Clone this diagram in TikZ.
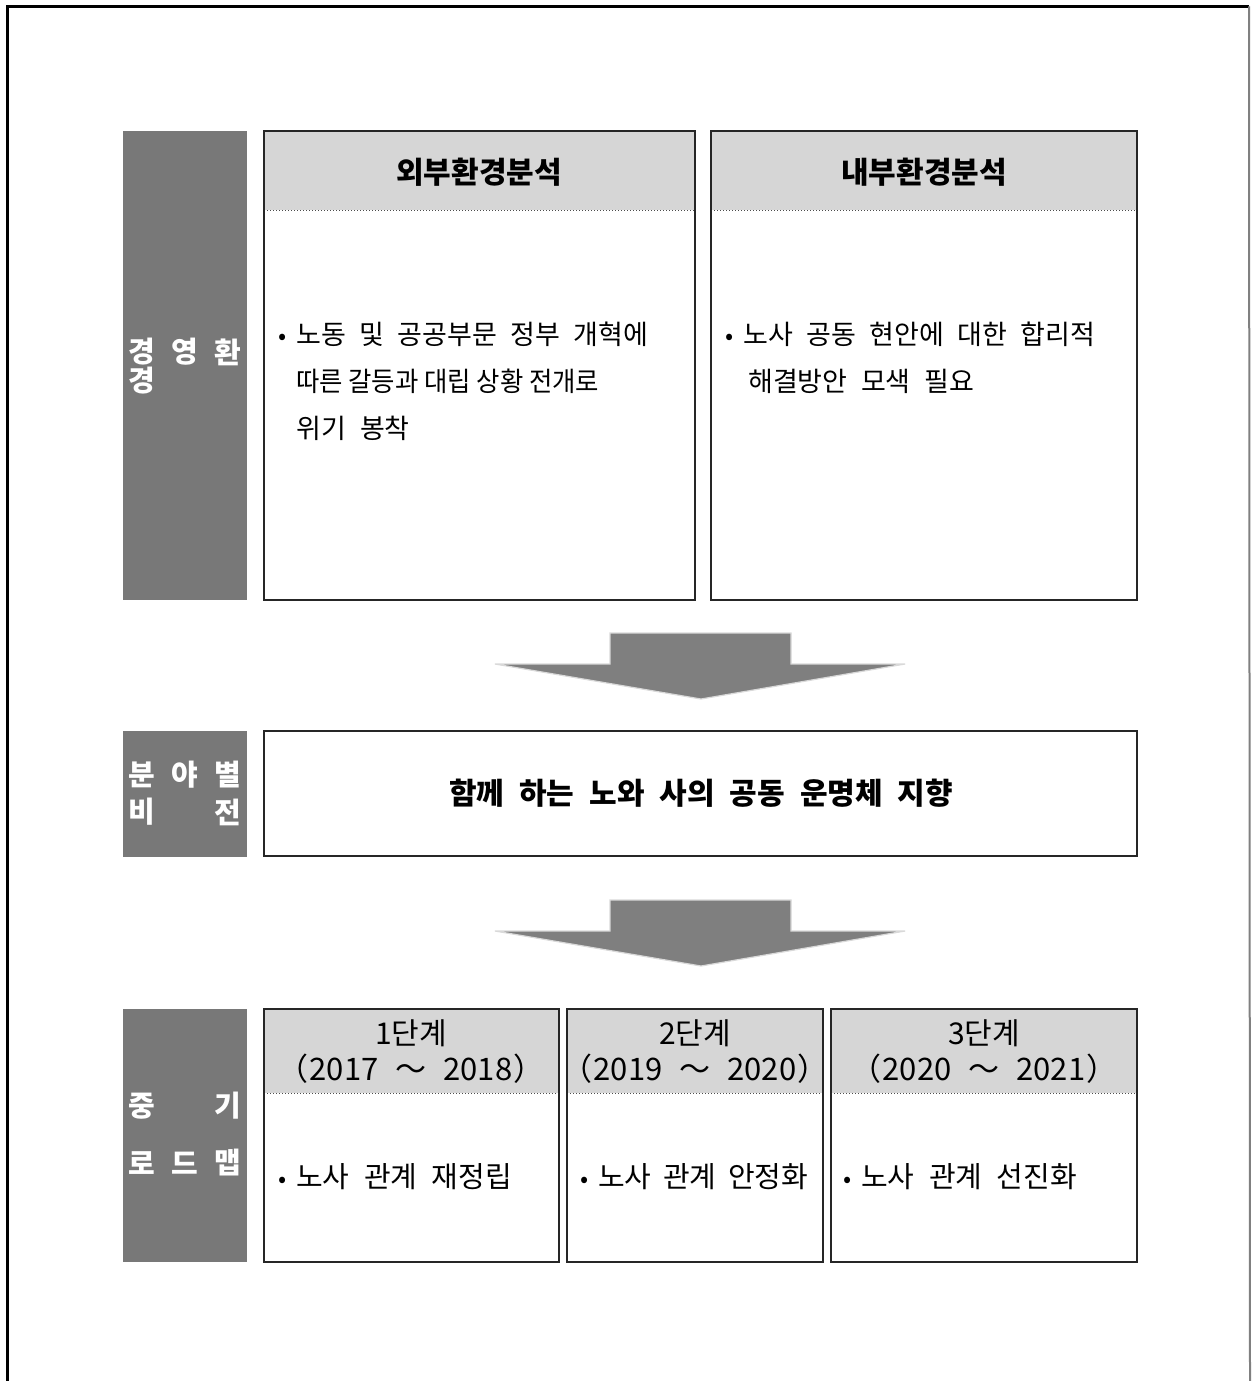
\documentclass[tikz,border=0pt]{standalone}
\usepackage{fontspec}
\setmainfont{Noto Sans CJK KR}
\definecolor{labelgray}{HTML}{787878}
\definecolor{headgray}{HTML}{D6D6D6}
\definecolor{arrowgray}{HTML}{7F7F7F}
\newcommand{\bul}{\makebox[18pt][l]{\fontsize{24}{24}\selectfont •}}
\newcommand{\ws}{\hspace{0.5em}}
\newcommand{\yrs}[2]{（\hspace{0.05em}#1\hspace{0.55em}～\hspace{0.55em}#2\hspace{0.05em}）}
\begin{document}
\begin{tikzpicture}[x=1pt,y=-1pt,
  lab/.style={text=white, font=\bfseries\fontsize{29}{29}\selectfont, inner sep=0pt},
  panel/.style={draw=black!85, line width=1.3pt},
  sep/.style={dotted, line width=1pt, draw=black!70},
  headtxt/.style={font=\bfseries\fontsize{30}{30}\selectfont, inner sep=0pt},
  stagetxt/.style={font=\fontsize{30}{30}\selectfont, inner sep=0pt},
  yeartxt/.style={font=\fontsize{31}{31}\selectfont, inner sep=0pt},
  body/.style={font=\fontsize{27}{27}\selectfont, anchor=base west, inner sep=0pt},
  bodyb/.style={font=\fontsize{29}{29}\selectfont, anchor=base west, inner sep=0pt},
  bigarrow/.style={fill=arrowgray, draw=gray!30, line width=1.2pt, line join=miter}]
\useasboundingbox (0,0) rectangle (1252,1381);
\fill[white] (0,0) rectangle (1252,1381);
% outer frame
\draw[line width=2.5pt] (7.5,1385) -- (7.5,6.5) -- (1249,6.5);
\draw[gray, line width=2pt] (1249,6.5) -- (1250,1385);

% ---------- row 1 ----------
\fill[labelgray] (123,131) rectangle (247,600);
\node[lab] (l1a) at (142,352) {경};
\node[lab] (l1b) at (185,352) {영};
\node[lab] (l1c) at (228,352) {환};
\node[lab] (l1d) at (142,381) {경};

\fill[headgray] (264,131) rectangle (695,210);
\draw[sep] (264,210) -- (695,210);
\draw[panel] (264,131) rectangle (695,600);
\node[headtxt] (exth) at (479,172) {외부환경분석};
\node[body] (ext1) at (278,344) {\bul 노동\ws 및\ws 공공부문\ws 정부\ws 개혁에};
\node[body] (ext2) at (296,391) {\scalebox{0.94}[1]{따른 갈등과 대립 상황 전개로}};
\node[body] (ext3) at (296,438) {위기\hspace{0.3em} 봉착};

\fill[headgray] (711,131) rectangle (1137,210);
\draw[sep] (711,210) -- (1137,210);
\draw[panel] (711,131) rectangle (1137,600);
\node[headtxt] (inth) at (924,172) {내부환경분석};
\node[body] (int1) at (725,344) {\bul 노사\ws 공동\ws 현안에\ws 대한\ws 합리적};
\node[body] (int2) at (748,391) {해결방안\ws 모색\ws 필요};

% arrow 1
\path[bigarrow] (610,633) -- (791,633) -- (791,664) -- (905,664) -- (701,699) -- (495,664) -- (610,664) -- cycle;

% ---------- row 2 ----------
\fill[labelgray] (123,731) rectangle (247,857);
\node[lab] (l2a) at (142,775) {분};
\node[lab] (l2b) at (185,775) {야};
\node[lab] (l2c) at (228,775) {별};
\node[lab] (l2d) at (142,812) {비};
\node[lab] (l2e) at (228,812) {전};

\draw[panel] (264,731) rectangle (1137,856);
\node[headtxt] (vision) at (701,793) {함께\ws 하는\ws 노와\ws 사의\ws 공동\ws 운명체\ws 지향};

% arrow 2
\path[bigarrow] (610,900) -- (791,900) -- (791,931) -- (905,931) -- (701,966) -- (495,931) -- (610,931) -- cycle;

% ---------- row 3 ----------
\fill[labelgray] (123,1009) rectangle (247,1262);
\node[lab] (l3a) at (142,1106) {중};
\node[lab] (l3b) at (228,1106) {기};
\node[lab] (l3c) at (142,1163) {로};
\node[lab] (l3d) at (185,1163) {드};
\node[lab] (l3e) at (228,1163) {맵};

\fill[headgray] (264,1009) rectangle (559,1093);
\draw[sep] (264,1093) -- (559,1093);
\draw[panel] (264,1009) rectangle (559,1262);
\node[stagetxt] (s1a) at (411,1033) {1단계};
\node[yeartxt] (s1b) at (411,1069) {\yrs{2017}{2018}};
\node[bodyb] (s1c) at (278,1187) {\bul 노사\ws 관계\ws 재정립};

\fill[headgray] (567,1009) rectangle (823,1093);
\draw[sep] (567,1093) -- (823,1093);
\draw[panel] (567,1009) rectangle (823,1262);
\node[stagetxt] (s2a) at (695,1033) {2단계};
\node[yeartxt] (s2b) at (695,1069) {\yrs{2019}{2020}};
\node[bodyb] (s2c) at (580,1187) {\bul 노사\hspace{0.4em}관계\hspace{0.4em}안정화};

\fill[headgray] (831,1009) rectangle (1137,1093);
\draw[sep] (831,1093) -- (1137,1093);
\draw[panel] (831,1009) rectangle (1137,1262);
\node[stagetxt] (s3a) at (984,1033) {3단계};
\node[yeartxt] (s3b) at (984,1069) {\yrs{2020}{2021}};
\node[bodyb] (s3c) at (843,1187) {\bul 노사\ws 관계\ws 선진화};
\end{tikzpicture}
\end{document}
